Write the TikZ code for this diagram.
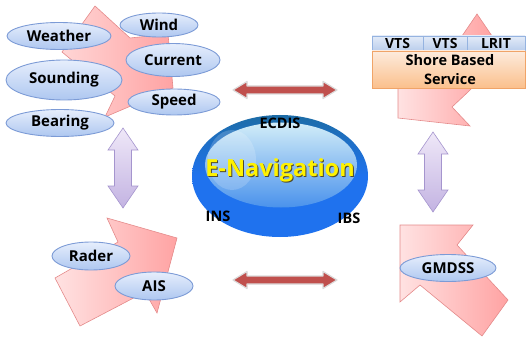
\documentclass[tikz,border=0pt]{standalone}
\usepackage{fontspec}
\setmainfont{Open Sans}
\usetikzlibrary{shapes.geometric}

\definecolor{pinkedge}{HTML}{E48A8A}
\definecolor{pinklite}{HTML}{FFE2E2}
\definecolor{pinkdark}{HTML}{FFA3A3}
\definecolor{bubtop}{HTML}{E6EEFC}
\definecolor{bubbot}{HTML}{AEC7F0}
\definecolor{bubedge}{HTML}{7C9BD6}
\definecolor{lavtop}{HTML}{EFE8F8}
\definecolor{lavbot}{HTML}{C3B3E2}
\definecolor{lavedge}{HTML}{A595CE}
\definecolor{arrowred}{HTML}{C0504D}
\definecolor{navblue}{HTML}{1F72EE}
\definecolor{navtop}{HTML}{1C6A88}
\definecolor{glowtop}{HTML}{D2EDF8}
\definecolor{glowbot}{HTML}{4A92EC}
\definecolor{rowtop}{HTML}{E3EBF8}
\definecolor{rowbot}{HTML}{B9CDEC}
\definecolor{rowedge}{HTML}{95B3E0}
\definecolor{shoretop}{HTML}{FDEBDD}
\definecolor{shorebot}{HTML}{FBC08C}
\definecolor{shoreedge}{HTML}{F0A468}

\tikzset{
  bub/.style={ellipse, draw=bubedge, line width=0.9pt, top color=bubtop,
    bottom color=bubbot, inner sep=0pt, font=\bfseries\fontsize{15}{17}\selectfont},
  pinkblock/.style={draw=pinkedge, line width=0.6pt, left color=pinklite, right color=pinkdark},
  lavblock/.style={draw=lavedge, line width=0.6pt, top color=lavtop, bottom color=lavbot},
  redblock/.style={fill=arrowred, draw=black!14, line width=1.2pt, line join=round},
  navlabel/.style={font=\bfseries\fontsize{14.5}{16}\selectfont},
  celltext/.style={font=\bfseries\fontsize{14}{16}\selectfont}
}

\begin{document}
\begin{tikzpicture}[x=1pt,y=-1pt]
\useasboundingbox (0,0) rectangle (526,339);

% pink block arrows
\draw[pinkblock, left color=pinklite!80!pinkdark] (95,6) -- (130,38) -- (168,34) -- (173,88) -- (105,117) -- (115,96) -- (62,52) -- cycle;
\draw[pinkblock] (477,14) -- (492,36) -- (480,80) -- (468,92) -- (452,107) -- (470,126) -- (398,118) -- (398,60) -- (462,36) -- cycle;
\draw[pinkblock] (107,218) -- (177,238) -- (157,313) -- (145,292) -- (80,326) -- (55,278) -- (118,242) -- cycle;
\draw[pinkblock] (400,225) -- (473,225) -- (457,245) -- (508,300) -- (482,336) -- (420,285) -- (400,302) -- cycle;

% up/down arrows
\draw[lavblock] (123,128) -- (138,150) -- (131.5,150) -- (131.5,186) -- (138,186) -- (123,208) -- (108,186) -- (114.5,186) -- (114.5,150) -- (108,150) -- cycle;
\draw[lavblock] (433,132) -- (448,154) -- (441.5,154) -- (441.5,190) -- (448,190) -- (433,212) -- (418,190) -- (424.5,190) -- (424.5,154) -- (418,154) -- cycle;

% left/right arrows
\draw[redblock] (233,90) -- (247,81.5) -- (247,86) -- (323,86) -- (323,81.5) -- (337,90) -- (323,98.5) -- (323,94) -- (247,94) -- (247,98.5) -- cycle;
\draw[redblock] (233,280) -- (247,271.5) -- (247,276) -- (323,276) -- (323,271.5) -- (337,280) -- (323,288.5) -- (323,284) -- (247,284) -- (247,288.5) -- cycle;

% sensor bubbles
\node[bub, minimum width=104, minimum height=27] (weather) at (59,36) {Weather};
\node[bub, minimum width=78, minimum height=24] (wind) at (159,25) {Wind};
\node[bub, minimum width=94, minimum height=33] (current) at (173,60) {Current};
\node[bub, minimum width=116, minimum height=40] (sounding) at (64,80) {Sounding};
\node[bub, minimum width=92, minimum height=26] (speed) at (174,102) {Speed};
\node[bub, minimum width=108, minimum height=27] (bearing) at (60,123) {Bearing};
\node[bub, minimum width=78, minimum height=28] (rader) at (91,256) {Rader};
\node[bub, minimum width=78, minimum height=28] (ais) at (154,286) {AIS};
\node[bub, minimum width=96, minimum height=27] (gmdss) at (448,268) {GMDSS};

% shore box
\draw[rowedge, top color=rowtop, bottom color=rowbot] (372,36) rectangle (525,51);
\draw[rowedge] (423,36) -- (423,51) (467,36) -- (467,51);
\draw[shoreedge, top color=shoretop, bottom color=shorebot] (372,51) rectangle (525,88);
\node[celltext] (vtsa) at (397.5,43.5) {VTS};
\node[celltext] (vtsb) at (445,43.5) {VTS};
\node[celltext] (lrit) at (496,43.5) {LRIT};
\node[celltext, align=center, font=\bfseries\fontsize{14.5}{19}\selectfont] (shore) at (450,70) {Shore Based\\Service};

% centre
\node[ellipse, minimum width=176, minimum height=122, top color=navtop!70!navblue, bottom color=navblue, middle color=navblue] (nav) at (280,176) {};
\node[ellipse, minimum width=152, minimum height=85, top color=glowtop, bottom color=glowbot] (navglow) at (281,165) {};
\fill[white, opacity=0.18] (232,160) ellipse (24 and 30);
\node[font=\bfseries\fontsize{23.5}{26}\selectfont, text=black!60!olive] (navshadow) at (281,171) {E-Navigation};
\node[font=\bfseries\fontsize{23.5}{26}\selectfont, text=yellow] (navtext) at (280,170) {E-Navigation};
\node[navlabel] (ecdis) at (280,123) {ECDIS};
\node[navlabel] (ins) at (218,216) {INS};
\node[navlabel] (ibs) at (349,218) {IBS};
\end{tikzpicture}
\end{document}
